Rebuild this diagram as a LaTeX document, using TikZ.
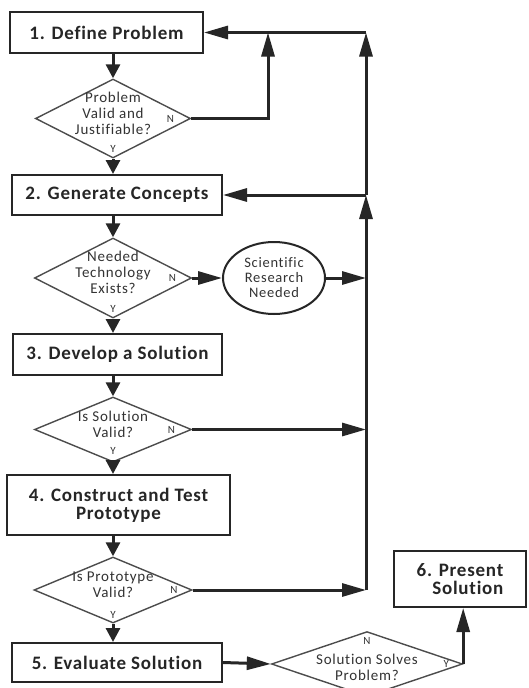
\documentclass[tikz,border=0pt]{standalone}
\usepackage{fontspec}
\setmainfont{Carlito}
\newfontfamily\boxfont[LetterSpace=4,Ligatures=NoCommon]{Carlito}
\newfontfamily\askfont[LetterSpace=5,Ligatures=NoCommon]{Carlito}
\usepackage{tikz}
\usetikzlibrary{arrows.meta}
\usetikzlibrary{shapes.geometric}
\usetikzlibrary{positioning}

\tikzset{
  stepbox/.style={draw=black!85,line width=2pt,inner sep=0pt,align=center,
    text=black!85,font=\boxfont\bfseries\fontsize{19}{18}\selectfont},
  askbox/.style={diamond,aspect=2,draw=black!70,line width=1.4pt,inner sep=-6pt,
    align=center,text=black!80,text depth=11pt,font=\askfont\fontsize{15}{16}\selectfont},
  yn/.style={inner sep=0pt,text=black!80,font=\askfont\fontsize{11}{11}\selectfont},
  flow/.style={line width=3pt,draw=black!85,-{Triangle[length=24pt,width=13pt]}},
  down/.style={line width=3pt,draw=black!85,-{Triangle[length=14pt,width=14pt]}},
  link/.style={line width=3pt,draw=black!85}
}

\begin{document}
\begin{tikzpicture}[x=1pt,y=-1pt]
\useasboundingbox[fill=white] (0,0) rectangle (528,688);
% steps
\node[stepbox,minimum width=193pt,minimum height=41pt] (define) at (106.5,32.5) {1. Define Problem};
\node[stepbox,minimum width=210pt,minimum height=40pt] (concepts) at (117,195) {2. Generate Concepts};
\node[stepbox,minimum width=209pt,minimum height=41pt] (develop) at (117.5,354.5) {3. Develop a Solution};
\node[stepbox,minimum width=223pt,minimum height=60pt] (construct) at (118.5,505) {4. Construct and Test\\Prototype};
\node[stepbox,minimum width=210pt,minimum height=39pt] (evaluate) at (117,662.5) {5. Evaluate Solution};
\node[stepbox,align=right,minimum width=132pt,minimum height=56pt] (present) at (460,579) {6. Present\\Solution};
% decisions
\node[askbox,minimum width=155pt,minimum height=79pt] (justify) at (113,118.5) {Problem\\Valid and\\Justifiable?};
\node[askbox,minimum width=157pt,minimum height=80pt] (tech) at (113,278) {Needed\\Technology\\Exists?};
\node[askbox,minimum width=157pt,minimum height=65pt] (solvalid) at (113,429.5) {Is Solution\\Valid?};
\node[askbox,minimum width=158pt,minimum height=66pt] (protovalid) at (113,590) {Is Prototype\\Valid?};
\node[askbox,text depth=0pt,text height=32pt,minimum width=191pt,minimum height=62pt] (solves) at (367,664) {Solution Solves\\Problem?};
\node[ellipse,draw=black!85,line width=2pt,inner sep=0pt,minimum width=102pt,minimum height=72pt,
  align=center,text=black!80,font=\askfont\fontsize{14.5}{15}\selectfont] (research) at (274,278) {Scientific\\Research\\Needed};
% yes / no marks
\node[yn,above=6pt of justify.south] (justifyy) {Y};
\node[yn,left=17pt of justify.east] (justifyn) {N};
\node[yn,above=6pt of tech.south] (techy) {Y};
\node[yn,left=16pt of tech.east] (techn) {N};
\node[yn,above=8pt of solvalid.south] (solvalidy) {Y};
\node[yn,left=17pt of solvalid.east] (solvalidn) {N};
\node[yn,above=5pt of protovalid.south] (protovalidy) {Y};
\node[yn,left=15pt of protovalid.east] (protovalidn) {N};
\node[yn,below=6pt of solves.north] (solvesn) {N};
\node[yn,left=14pt of solves.east] (solvesy) {Y};
% return line
\coordinate (loop) at (268,32.5);
\coordinate (top) at (366,32.5);
\coordinate (back2) at (366,195);
\coordinate (back3) at (366,278);
\coordinate (back4) at (366,429.5);
\coordinate (back5) at (366,590);
% main flow
\draw[down] (define.south -| justify.north) -- (justify.north);
\draw[down] (justify.south) -- (justify.south |- concepts.north);
\draw[down] (concepts.south -| tech.north) -- (tech.north);
\draw[down] (tech.south) -- (tech.south |- develop.north);
\draw[down] (develop.south -| solvalid.north) -- (solvalid.north);
\draw[down] (solvalid.south) -- (solvalid.south |- construct.north);
\draw[down] (construct.south -| protovalid.north) -- (protovalid.north);
\draw[down] (protovalid.south) -- (protovalid.south |- evaluate.north);
\draw[flow] (evaluate.east) -- (solves.west);
\draw[flow] (solves.east) -- (solves.east |- present.south);
% no branches
\draw[flow] (justify.east) -| (loop);
\draw[flow] (tech.east) -- (research.west);
\draw[flow] (research.east) -- (back3);
\draw[flow] (solvalid.east) -- (back4);
\draw[flow] (protovalid.east) -- (back5);
\draw[link] (back5) -- (back3);
\draw[flow] (back3) -- (back2);
\draw[flow] (back2) -- (concepts.east);
\draw[flow] (back2) -- (top);
\draw[flow] (top) -- (define.east);
\end{tikzpicture}
\end{document}
